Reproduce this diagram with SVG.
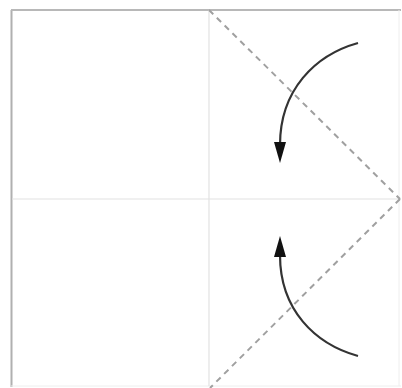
<svg xmlns="http://www.w3.org/2000/svg" width="402" height="388" viewBox="0 0 402 388">
<style>
.crease{stroke:#e2e2e2;stroke-width:1.2;fill:none}
.valley{stroke:#a0a0a0;stroke-width:2;stroke-dasharray:6,5;fill:none}
.arc{stroke:#333;stroke-width:2.2;fill:none}
.head{fill:#111}
</style>
<rect width="402" height="388" fill="#fff"/>
<g id="paper">
<line x1="11.5" y1="10" x2="11.5" y2="387" stroke="#b0b0b0" stroke-width="2"/>
<line x1="11" y1="10" x2="401" y2="10" stroke="#b8b8b8" stroke-width="2"/>
<line x1="399" y1="10" x2="399" y2="386" stroke="#eeeeee" stroke-width="1"/>
<line x1="11" y1="386" x2="401" y2="386" stroke="#eeeeee" stroke-width="1"/>
<line class="crease" x1="209" y1="10" x2="209" y2="386"/>
<line class="crease" x1="12" y1="199" x2="399" y2="199"/>
</g>
<g id="connectors">
<line class="valley" x1="209" y1="10" x2="400" y2="199"/>
<line class="valley" x1="400" y1="199" x2="210" y2="388"/>
<path class="arc" d="M358,43 C315,55 280,90 280,145"/>
<polygon class="head" points="274,142 286,142 280,163"/>
<path class="arc" d="M358,356 C315,344 280,310 280,255"/>
<polygon class="head" points="274,257 286,257 280,236"/>
</g>
</svg>
